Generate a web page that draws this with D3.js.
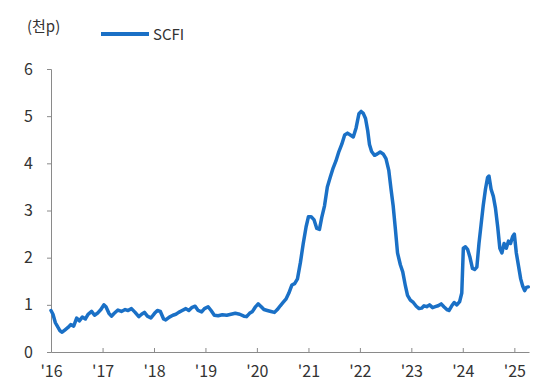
<!DOCTYPE html>
<html>
<head>
<meta charset="utf-8">
<script src="https://cdn.jsdelivr.net/npm/d3@7"></script>
<style>
  body { margin: 0; background: #fff; }
  text { font-family: "Noto Sans CJK KR", "Noto Sans", sans-serif; fill: #333; }
</style>
</head>
<body>
<svg id="chart"></svg>
<script>
// SCFI, thousand points
const dates = [
  "2016-01-01","2016-01-15","2016-02-01","2016-02-20","2016-03-05","2016-03-20","2016-04-10","2016-05-01",
  "2016-05-20","2016-06-10","2016-07-01","2016-07-20","2016-08-10","2016-09-01","2016-09-20","2016-10-15",
  "2016-11-05","2016-11-25","2016-12-20","2017-01-10","2017-01-25","2017-02-15","2017-03-05","2017-03-25",
  "2017-04-20","2017-05-15","2017-06-10","2017-07-01","2017-07-25","2017-08-20","2017-09-15","2017-10-05",
  "2017-10-25","2017-11-15","2017-12-10","2018-01-05","2018-01-25","2018-02-15","2018-03-10","2018-03-25",
  "2018-04-20","2018-05-15","2018-06-05","2018-06-25","2018-07-20","2018-08-15","2018-09-05","2018-09-25",
  "2018-10-20","2018-11-10","2018-12-05","2018-12-25","2019-01-20","2019-02-10","2019-03-05","2019-04-01",
  "2019-05-01","2019-06-01","2019-07-01","2019-08-01","2019-09-01","2019-10-01","2019-10-20","2019-11-10",
  "2019-12-01","2019-12-20","2020-01-10","2020-02-01","2020-02-20","2020-03-15","2020-04-10","2020-05-05",
  "2020-05-25","2020-06-15","2020-07-05","2020-07-25","2020-08-15","2020-09-05","2020-09-25","2020-10-15",
  "2020-11-05","2020-11-25","2020-12-15","2021-01-01","2021-01-20","2021-02-10","2021-03-01","2021-03-20",
  "2021-04-05","2021-04-25","2021-05-15","2021-06-05","2021-06-25","2021-07-15","2021-08-05","2021-08-25",
  "2021-09-15","2021-10-05","2021-10-25","2021-11-15","2021-12-05","2021-12-25","2022-01-10","2022-01-25",
  "2022-02-10","2022-02-25","2022-03-10","2022-03-25","2022-04-15","2022-05-05","2022-05-25","2022-06-15",
  "2022-07-05","2022-07-25","2022-08-10","2022-08-25","2022-09-10","2022-09-25","2022-10-15","2022-11-01",
  "2022-11-20","2022-12-05","2022-12-25","2023-01-15","2023-02-05","2023-02-25","2023-03-15","2023-04-01",
  "2023-04-20","2023-05-10","2023-06-01","2023-06-20","2023-07-10","2023-08-01","2023-08-20","2023-09-10",
  "2023-09-25","2023-10-15","2023-11-01","2023-11-20","2023-12-10","2023-12-25","2024-01-05","2024-01-20",
  "2024-02-05","2024-02-20","2024-03-10","2024-03-25","2024-04-10","2024-04-25","2024-05-10","2024-05-25",
  "2024-06-10","2024-06-25","2024-07-05","2024-07-20","2024-08-05","2024-08-20","2024-09-05","2024-09-20",
  "2024-10-05","2024-10-20","2024-11-05","2024-11-20","2024-12-05","2024-12-20","2025-01-01","2025-01-15",
  "2025-02-01","2025-02-15","2025-03-01","2025-03-15","2025-03-28","2025-04-10"
];
const scfi = [
  0.88,0.80,0.62,0.52,0.45,0.42,0.47,0.52,
  0.58,0.55,0.72,0.66,0.74,0.70,0.80,0.86,
  0.78,0.82,0.90,1.00,0.96,0.82,0.76,0.82,
  0.89,0.86,0.90,0.88,0.92,0.84,0.75,0.80,
  0.84,0.76,0.72,0.82,0.88,0.86,0.70,0.68,
  0.74,0.78,0.80,0.84,0.88,0.92,0.88,0.94,
  0.97,0.88,0.85,0.92,0.96,0.88,0.78,0.77,
  0.79,0.78,0.80,0.82,0.80,0.76,0.75,0.82,
  0.86,0.95,1.02,0.96,0.90,0.88,0.86,0.84,
  0.90,0.98,1.05,1.12,1.25,1.42,1.45,1.55,
  1.90,2.30,2.65,2.87,2.87,2.80,2.62,2.60,
  2.85,3.10,3.50,3.71,3.90,4.05,4.25,4.40,
  4.60,4.64,4.60,4.56,4.75,5.05,5.10,5.06,
  4.95,4.70,4.40,4.25,4.17,4.20,4.24,4.20,
  4.10,3.85,3.45,3.10,2.60,2.10,1.85,1.70,
  1.40,1.20,1.10,1.05,0.97,0.92,0.93,0.98,
  0.96,1.00,0.94,0.96,0.98,1.02,0.96,0.90,
  0.88,0.98,1.05,1.00,1.07,1.25,2.20,2.23,
  2.17,2.02,1.77,1.75,1.80,2.30,2.70,3.10,
  3.45,3.70,3.73,3.45,3.30,3.05,2.65,2.20,
  2.10,2.30,2.20,2.35,2.30,2.45,2.50,2.10,
  1.80,1.55,1.40,1.30,1.37,1.38
];
const yTicks = [0, 1, 2, 3, 4, 5, 6];
const xTickYears = [2016, 2017, 2018, 2019, 2020, 2021, 2022, 2023, 2024, 2025];
const unitLabel = "(천p)";
const seriesName = "SCFI";

const width = 550, height = 389;
const margin = { top: 69, right: 21, bottom: 37, left: 51 };
const color = "#1a70c6";
const font = '"Noto Sans CJK KR", "Noto Sans", sans-serif';

const parse = d3.timeParse("%Y-%m-%d");
const data = dates.map((d, i) => ({ date: parse(d), value: scfi[i] }));

const svg = d3.select("#chart").attr("width", width).attr("height", height);

const x = d3.scaleTime()
  .domain([new Date(2016, 0, 1), new Date(2025, 3, 15)])
  .range([margin.left, width - margin.right]);
const y = d3.scaleLinear()
  .domain([0, 6])
  .range([height - margin.bottom, margin.top]);

const xAxis = svg.append("g")
  .attr("transform", `translate(0,${height - margin.bottom})`)
  .call(d3.axisBottom(x)
    .tickValues(xTickYears.map(yr => new Date(yr, 0, 1)))
    .tickFormat(d => "'" + String(d.getFullYear()).slice(2))
    .tickSizeInner(-4)
    .tickSizeOuter(0)
    .tickPadding(14));

const yAxis = svg.append("g")
  .attr("transform", `translate(${margin.left},0)`)
  .call(d3.axisLeft(y).tickValues(yTicks).tickFormat(d3.format("d")).tickSize(4).tickPadding(14));

[xAxis, yAxis].forEach(g => {
  g.selectAll("path, line").attr("stroke", "#8a8a8a");
  g.selectAll("text").attr("font-size", 16).attr("fill", "#333").attr("font-family", font);
});

const line = d3.line()
  .x(d => x(d.date))
  .y(d => y(d.value));

svg.append("path")
  .datum(data)
  .attr("fill", "none")
  .attr("stroke", color)
  .attr("stroke-width", 3.5)
  .attr("stroke-linejoin", "round")
  .attr("stroke-linecap", "round")
  .attr("d", line);

// unit + legend
svg.append("text").attr("x", 27).attr("y", 32).attr("font-size", 15).text(unitLabel);

svg.append("line")
  .attr("x1", 101).attr("x2", 149).attr("y1", 34).attr("y2", 34)
  .attr("stroke", color).attr("stroke-width", 4);
svg.append("text").attr("x", 153).attr("y", 40).attr("font-size", 15).text(seriesName);
</script>
</body>
</html>
